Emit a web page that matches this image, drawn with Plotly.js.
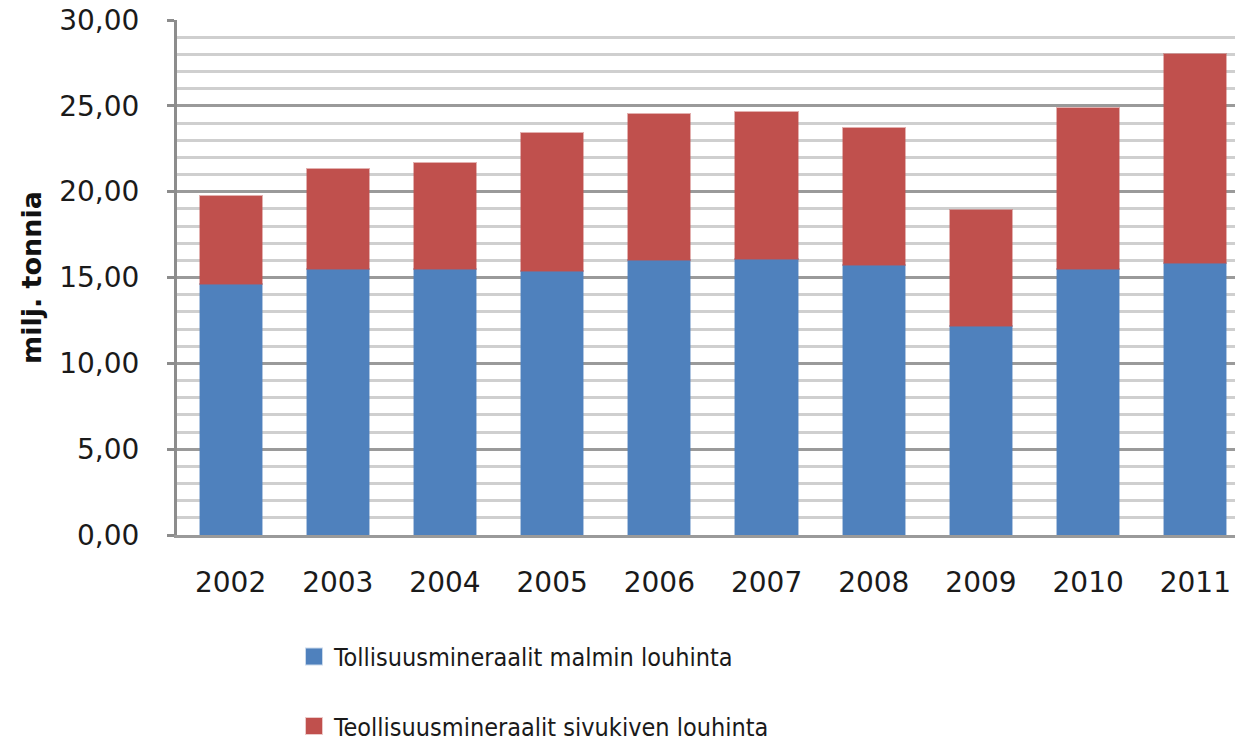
<!DOCTYPE html>
<html>
<head>
<meta charset="utf-8">
<script src="https://cdn.plot.ly/plotly-3.0.1.min.js"></script>
<style>html,body{margin:0;padding:0;background:#fff;}#chart{width:1235px;height:743px;}</style>
</head>
<body>
<div id="chart"></div>
<script>
const years = ['2002','2003','2004','2005','2006','2007','2008','2009','2010','2011'];
const malmi = [14.65, 15.5, 15.5, 15.4, 16.0, 16.1, 15.7, 12.2, 15.5, 15.85];
const sivukivi = [5.1, 5.8, 6.15, 8.0, 8.5, 8.55, 8.0, 6.75, 9.4, 12.15];
const yTickVals = [0, 5, 10, 15, 20, 25, 30];
const yTickText = ['0,00', '5,00', '10,00', '15,00', '20,00', '25,00', '30,00'];
const seriesNames = ['Tollisuusmineraalit malmin louhinta', 'Teollisuusmineraalit sivukiven louhinta'];
const colors = ['#4F81BD', '#C0504D'];
const edgeColors = ['rgba(79,129,189,0.45)', 'rgba(192,80,77,0.45)'];

const traces = [
  {type: 'bar', x: years, y: malmi, name: seriesNames[0], showlegend: false,
   marker: {color: colors[0], line: {color: edgeColors[0], width: 2}}, width: 0.58},
  {type: 'bar', x: years, y: sivukivi, name: seriesNames[1], showlegend: false,
   marker: {color: colors[1], line: {color: edgeColors[1], width: 2}}, width: 0.58},
  // legend entries with larger square swatches (no data points drawn)
  {type: 'scatter', mode: 'markers', x: [null], y: [null], name: seriesNames[0], legendgroup: 'a',
   marker: {symbol: 'square', size: 18, color: colors[0], line: {color: 'rgba(79,129,189,0.3)', width: 2}}},
  {type: 'scatter', mode: 'markers', x: [null], y: [null], name: seriesNames[1], legendgroup: 'b',
   marker: {symbol: 'square', size: 18, color: colors[1], line: {color: 'rgba(192,80,77,0.3)', width: 2}}}
];

const layout = {
  width: 1235, height: 743,
  margin: {l: 177, r: 0, t: 20, b: 208},
  paper_bgcolor: '#fff', plot_bgcolor: '#fff',
  barmode: 'stack',
  showlegend: true,
  font: {family: 'DejaVu Sans, sans-serif', color: '#1a1a1a'},
  xaxis: {
    type: 'category', range: [-0.5, 9.37], automargin: false,
    tickfont: {size: 28, color: '#1a1a1a'},
    showline: true, linecolor: '#9a9a9a', linewidth: 3,
    ticks: '', ticklabelstandoff: 20, showgrid: false, zeroline: false
  },
  yaxis: {
    range: [0, 30], tickvals: yTickVals, ticktext: yTickText,
    tickfont: {size: 28, color: '#1a1a1a'},
    showline: true, linecolor: '#8c8c8c', linewidth: 3,
    ticks: 'outside', ticklen: 7, tickwidth: 3, tickcolor: '#8c8c8c',
    ticklabelstandoff: 22,
    showgrid: true, gridcolor: '#9a9a9a', gridwidth: 3, zeroline: false,
    minor: {dtick: 1, showgrid: true, gridcolor: '#cfcfcf', gridwidth: 3},
    title: {text: 'milj. tonnia', font: {size: 27, family: 'DejaVu Sans, sans-serif', weight: 'bold', color: '#111'}, standoff: 10}
  },
  legend: {
    orientation: 'v', xref: 'paper', yref: 'container',
    x: 0.1106, xanchor: 'left', y: 0.147, yanchor: 'top',
    traceorder: 'grouped', tracegroupgap: 34, itemsizing: 'trace',
    font: {size: 25, family: 'DejaVu Sans Condensed, DejaVu Sans, sans-serif', color: '#1a1a1a'},
    bgcolor: 'rgba(0,0,0,0)'
  }
};

Plotly.newPlot('chart', traces, layout, {displayModeBar: false, staticPlot: true});
</script>
</body>
</html>
